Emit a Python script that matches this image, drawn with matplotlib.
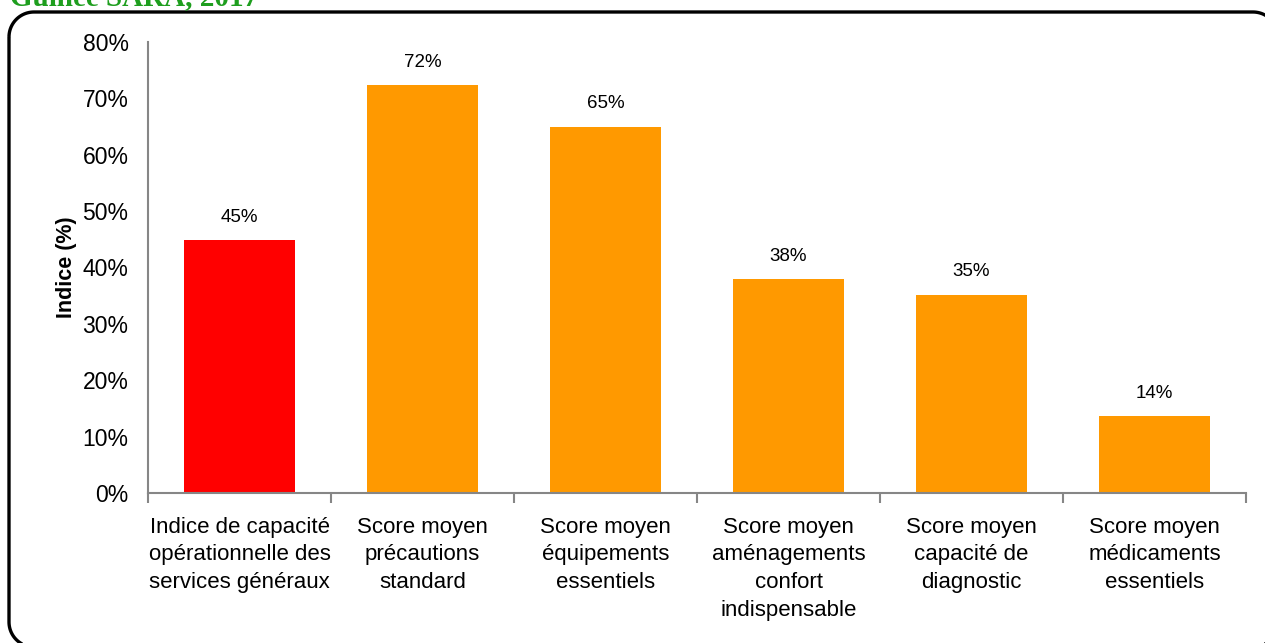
import matplotlib
matplotlib.use("Agg")
import matplotlib.pyplot as plt
import numpy as np
from matplotlib.path import Path
from matplotlib.patches import PathPatch
from matplotlib.ticker import FixedLocator, MultipleLocator, FuncFormatter

categories = [
    "Indice de capacité\nopérationnelle des\nservices généraux",
    "Score moyen\nprécautions\nstandard",
    "Score moyen\néquipements\nessentiels",
    "Score moyen\naménagements\nconfort\nindispensable",
    "Score moyen\ncapacité de\ndiagnostic",
    "Score moyen\nmédicaments\nessentiels",
]
values = [44.8, 72.3, 64.9, 37.9, 35.1, 13.6]
bar_colors = ["#FF0000", "#FF9900", "#FF9900", "#FF9900", "#FF9900", "#FF9900"]
y_label = "Indice (%)"
title = "Guinée SARA, 2017"

plt.rcParams["font.family"] = ["Liberation Sans", "DejaVu Sans"]

W, H = 1265, 643
fig = plt.figure(figsize=(W / 100, H / 100), dpi=100)


def rounded_rect(x0, y0, x1, y1, r, n=24):
    """Closed outline of a rounded rectangle (y grows downward)."""
    pts = []
    corners = [((x0 + r, y0 + r), np.pi, 1.5 * np.pi),
               ((x1 - r, y0 + r), 1.5 * np.pi, 2 * np.pi),
               ((x1 - r, y1 - r), 0, 0.5 * np.pi),
               ((x0 + r, y1 - r), 0.5 * np.pi, np.pi)]
    for (cx, cy), a0, a1 in corners:
        t = np.linspace(a0, a1, n)
        pts.extend(zip(cx + r * np.cos(t), cy + r * np.sin(t)))
    pts.append(pts[0])
    return Path(pts)


# background layer in pixel units for the rounded frame
bg = fig.add_axes([0, 0, 1, 1], zorder=-1)
bg.set_xlim(0, W)
bg.set_ylim(H, 0)
bg.axis("off")
bg.add_patch(PathPatch(rounded_rect(9, 12, 1278, 647, 25), fill=False,
                       edgecolor="black", linewidth=2.4))

fig.text(10 / W, 1 - 5 / H, title, family="Liberation Serif", weight="bold",
         color="#1E9E1E", fontsize=21, ha="left", va="baseline")

ax = fig.add_axes([148 / W, 1 - 493 / H, (1246 - 148) / W, (493 - 42) / H])
ax.patch.set_alpha(0)
x = list(range(len(categories)))
bars = ax.bar(x, values, width=0.61, color=bar_colors, zorder=2)

for xi, v in zip(x, values):
    ax.text(xi, v + 2.6, f"{v:.0f}%", ha="center", va="bottom",
            fontsize=13.5, color="black")

ax.set_xlim(-0.5, len(categories) - 0.5)
ax.set_ylim(0, 80)
ax.yaxis.set_major_locator(MultipleLocator(10))
ax.yaxis.set_major_formatter(FuncFormatter(lambda v, p: f"{v:.0f}%"))
ax.tick_params(axis="y", length=0, pad=14, labelsize=16.5)

ax.xaxis.set_major_locator(FixedLocator([i - 0.5 for i in range(len(categories) + 1)]))
ax.xaxis.set_major_formatter(FuncFormatter(lambda v, p: ""))
ax.xaxis.set_minor_locator(FixedLocator(x))
ax.set_xticklabels(categories, minor=True)
ax.tick_params(axis="x", which="major", length=7, width=1.5, color="#868686", direction="out")
ax.tick_params(axis="x", which="minor", length=0, pad=17, labelsize=16)
for lbl in ax.get_xticklabels(minor=True):
    lbl.set_linespacing(1.42)
    lbl.set_va("top")

for s in ("top", "right"):
    ax.spines[s].set_visible(False)
for s in ("left", "bottom"):
    ax.spines[s].set_color("#868686")
    ax.spines[s].set_linewidth(1.5)

ax.set_ylabel(y_label, fontsize=15.5, weight="bold", labelpad=4)

fig.savefig("out.png", dpi=100)
